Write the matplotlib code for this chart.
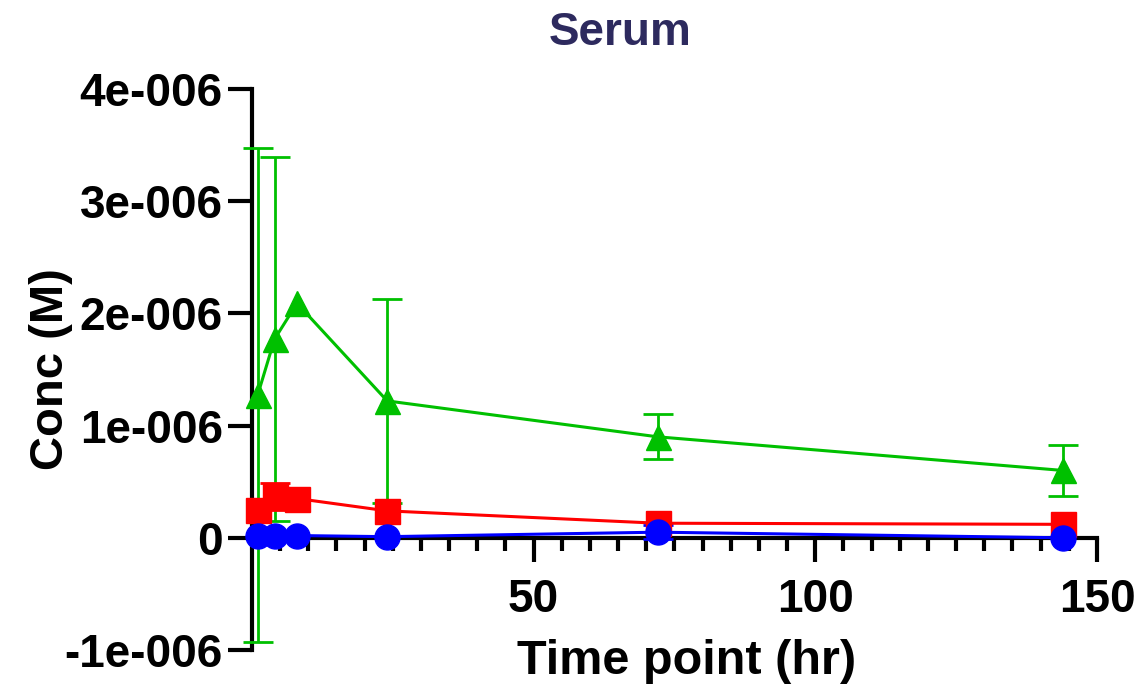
import matplotlib
matplotlib.use("Agg")
import matplotlib.pyplot as plt
from matplotlib.ticker import FixedLocator, FuncFormatter

plt.rcParams["font.family"] = ["Liberation Sans", "DejaVu Sans"]
plt.rcParams["font.weight"] = "bold"

nan = float("nan")  # SD too small to show outside the marker

# Time points (hr) and mean / SD concentrations (M)
TIME = [1, 4, 8, 24, 72, 144]

GREEN_MEAN = [1.27e-6, 1.77e-6, 2.09e-6, 1.22e-6, 0.90e-6, 0.60e-6]
GREEN_SD = [2.20e-6, 1.62e-6, nan, 0.91e-6, 0.20e-6, 0.23e-6]

RED_MEAN = [0.25e-6, 0.37e-6, 0.35e-6, 0.24e-6, 0.13e-6, 0.12e-6]
RED_SD = [nan, 0.12e-6, nan, nan, nan, nan]

BLUE_MEAN = [0.02e-6, 0.02e-6, 0.02e-6, 0.01e-6, 0.05e-6, 0.00e-6]
BLUE_SD = [nan, nan, nan, nan, 0.06e-6, nan]

Y_TICKS = [-1e-6, 0, 1e-6, 2e-6, 3e-6, 4e-6]
Y_LABELS = ["-1e-006", "0", "1e-006", "2e-006", "3e-006", "4e-006"]
X_TICKS = [50, 100, 150]

green = "#00c000"
red = "#ff0000"
blue = "#0000ff"

fig = plt.figure(figsize=(11.35, 6.85), dpi=100)
ax = fig.add_axes([0.222, 0.0511, 0.7445, 0.819])

series = [
    (GREEN_MEAN, GREEN_SD, green, "^"),
    (RED_MEAN, RED_SD, red, "s"),
    (BLUE_MEAN, BLUE_SD, blue, "o"),
]
for mean, sd, color, marker in series:
    ax.errorbar(
        TIME, mean, yerr=sd, color=color, marker=marker, ms=18, lw=2.2,
        elinewidth=2, capsize=11, capthick=2, clip_on=False, zorder=3,
    )

ax.set_xlim(0, 150)
ax.set_ylim(-1e-6, 4e-6)

# Prism-like axes: x axis crosses at y=0
ax.spines.right.set_visible(False)
ax.spines.top.set_visible(False)
ax.spines.bottom.set_position(("data", 0))
ax.spines.bottom.set_linewidth(3)
ax.spines.left.set_linewidth(3)

ax.set_yticks(Y_TICKS)
ax.yaxis.set_major_formatter(FuncFormatter(lambda v, p: Y_LABELS[p] if p is not None and p < len(Y_LABELS) else ""))
ax.set_xticks(X_TICKS)
ax.xaxis.set_minor_locator(FixedLocator([t for t in range(5, 150, 5) if t % 50]))
ax.tick_params(axis="both", which="major", width=3, length=17, labelsize=33)
ax.tick_params(axis="x", which="minor", width=3, length=9)
ax.tick_params(axis="x", which="major", pad=12)
ax.tick_params(axis="y", which="major", pad=4)

ax.set_xlabel("Time point (hr)", fontsize=35, fontweight="bold")
ax.xaxis.set_label_coords(0.514, -0.02)
ax.xaxis.label.set_va("center")
ax.set_ylabel("Conc (M)", fontsize=34, fontweight="bold")
ax.yaxis.set_label_coords(-0.238, 0.5)
ax.yaxis.label.set_va("center")

ax.text(0.436, 1.10, "Serum", transform=ax.transAxes, ha="center", va="center",
        fontsize=33, fontweight="bold", color="#2d2a5e")

plt.savefig("out.png", dpi=100)
